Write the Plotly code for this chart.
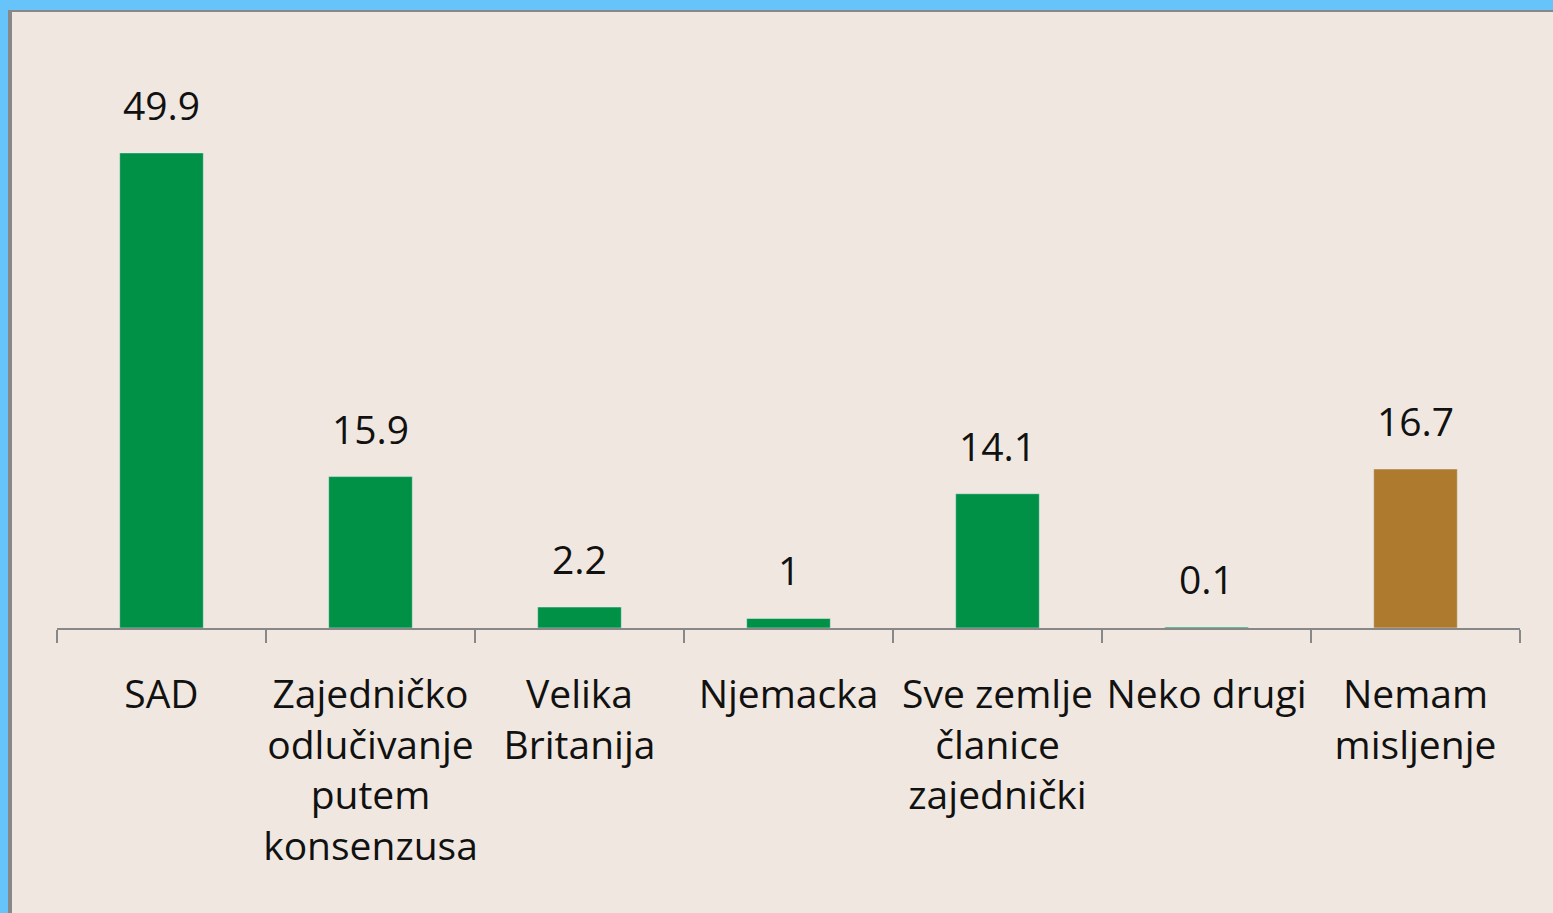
import plotly.graph_objects as go

categories = ["SAD", "Zajedničko<br>odlučivanje<br>putem<br>konsenzusa", "Velika<br>Britanija",
              "Njemacka", "Sve zemlje<br>članice<br>zajednički", "Neko drugi", "Nemam<br>misljenje"]
values = [49.9, 15.9, 2.2, 1, 14.1, 0.1, 16.7]
value_labels = ["49.9", "15.9", "2.2", "1", "14.1", "0.1", "16.7"]
colors = ["#009046", "#009046", "#009046", "#009046", "#009046", "#009046", "#AD7A2E"]

W, H = 1553, 913
L, R, T, B = 57, 33, 12, 285
pw, ph = W - L - R, H - T - B

def px_x(p):
    return (p - L) / pw

def px_y(p):
    return (H - B - p) / ph

FONT = "Open Sans"
TXT = "#111111"

fig = go.Figure(go.Bar(x=categories, y=values, marker_color=colors, width=0.4))

for c, v, t in zip(categories, values, value_labels):
    fig.add_annotation(x=c, y=v, text=t, showarrow=False, yanchor="bottom", yshift=20,
                       font=dict(family=FONT, size=39, color=TXT))

shapes = [
    dict(type="rect", xref="paper", yref="paper", x0=px_x(-5), x1=px_x(W + 5), y0=px_y(-5), y1=px_y(H + 5),
         fillcolor="#66C4FA", line_width=0, layer="below"),
    dict(type="rect", xref="paper", yref="paper", x0=px_x(8), x1=px_x(W + 5), y0=px_y(10), y1=px_y(H + 5),
         fillcolor="#888888", line_width=0, layer="below"),
    dict(type="rect", xref="paper", yref="paper", x0=px_x(12), x1=px_x(W + 5), y0=px_y(12), y1=px_y(H + 5),
         fillcolor="#F0E8E0", line_width=0, layer="below"),
]

fig.update_layout(
    width=W, height=H,
    margin=dict(l=L, r=R, t=T, b=B),
    paper_bgcolor="#F0E8E0", plot_bgcolor="rgba(0,0,0,0)",
    showlegend=False, shapes=shapes,
    font=dict(family=FONT, size=39, color=TXT),
)
fig.update_xaxes(
    type="category", categoryorder="array", categoryarray=categories,
    showline=True, linecolor="#888888", linewidth=2,
    ticks="outside", tickson="boundaries", ticklen=13, tickwidth=2, tickcolor="#888888",
    showgrid=False, zeroline=False, tickfont=dict(family=FONT, size=39, color=TXT),
    tickangle=0, ticklabelstandoff=31,
)
fig.update_yaxes(range=[0, 64.7], visible=False, showgrid=False, zeroline=False)

fig.write_html("out.html", config={"displayModeBar": False},
               post_script="document.body.style.margin='0';document.body.style.overflow='hidden';")
